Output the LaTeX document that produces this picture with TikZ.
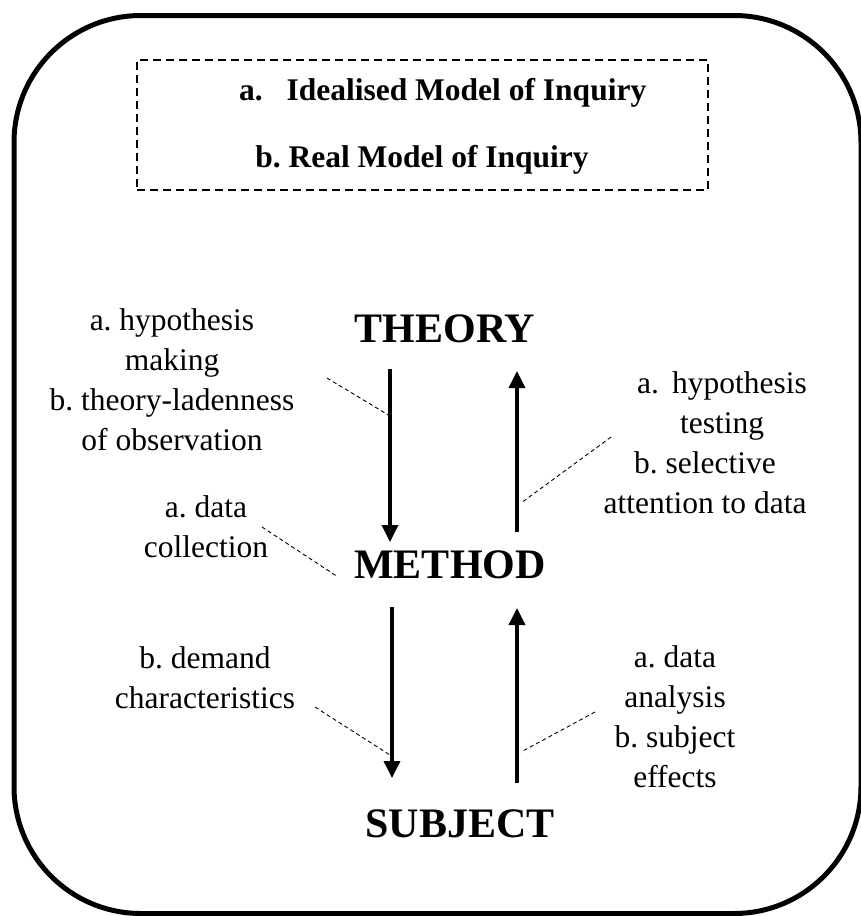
\documentclass[tikz,border=0pt]{standalone}
\usepackage{fontspec}
\setmainfont{Liberation Serif}
\usetikzlibrary{arrows.meta,calc}
\frenchspacing
\begin{document}
\begin{tikzpicture}[x=1pt,y=-1pt,
  every node/.style={inner sep=0pt, outer sep=0pt},
  note/.style={font=\fontsize{31.5pt}{40pt}\selectfont, align=center, anchor=base},
  level/.style={font=\fontsize{42pt}{50pt}\selectfont\bfseries, anchor=base},
  heading/.style={font=\fontsize{31.5pt}{40pt}\selectfont\bfseries, anchor=base},
  flow/.style={line width=3.5pt, -{Triangle[width=16pt,length=17pt]}},
  leader/.style={line width=0.9pt, dash pattern=on 4pt off 3pt},
  legendbox/.style={draw, line width=1.4pt, dash pattern=on 8pt off 5pt,
                    minimum width=571pt, minimum height=130pt}
]
\useasboundingbox (0,0) rectangle (860,916);

% outer frame
\draw[line width=5pt, rounded corners=127pt] (14,15.5) rectangle (861,913.5);

% legend
\node[legendbox] (legend) at (422.5,125) {};
\node[heading, anchor=base west] (ideal) at (239,100) {a.\hspace{24pt}Idealised Model of Inquiry};
\node[heading] (real) at (422,167) {b. Real Model of Inquiry};

% the three levels
\node[level] (theory) at (445,342) {THEORY};
\node[level] (method) at (450,578) {METHOD};
\node[level] (subject) at (460,837) {SUBJECT};

% flows between levels
\draw[flow] ($(theory.base)+(-55,27)$) -- ($(method.base)+(-60,-36)$);
\draw[flow] ($(method.base)+(67,-46)$) -- ($(theory.base)+(72,29)$);
\draw[flow] ($(method.base)+(-58,29)$) -- ($(subject.base)+(-68,-59)$);
\draw[flow] ($(subject.base)+(57,-54)$) -- ($(method.base)+(67,30)$);

% annotations (anchored on the baseline of their last line)
\node[note] (hypmake) at (172,450) {a. hypothesis\\making\\b. theory-ladenness\\of observation};
\node[note] (collect) at (206,557) {a. data\\collection};
\node[note] (demand) at (205,708) {b. demand\\characteristics};
\node[note] (hyptest) at (705,513) {\hspace*{34pt}a.\hspace{13pt}hypothesis\\\hspace*{34pt}testing\\b. selective\\attention to data};
\node[note] (analysis) at (675,787) {a. data\\analysis\\b. subject\\effects};

% leader lines
\coordinate (l1a) at (327,378); \coordinate (l1b) at (390,416);
\coordinate (l2a) at (611,437); \coordinate (l2b) at (521,503);
\coordinate (l3a) at (262,527); \coordinate (l3b) at (338,577);
\coordinate (l4a) at (315,707); \coordinate (l4b) at (390,755);
\coordinate (l5a) at (595,712); \coordinate (l5b) at (521,752);
\draw[leader] (l1a) -- (l1b);
\draw[leader] (l2a) -- (l2b);
\draw[leader] (l3a) -- (l3b);
\draw[leader] (l4a) -- (l4b);
\draw[leader] (l5a) -- (l5b);
\end{tikzpicture}
\end{document}
